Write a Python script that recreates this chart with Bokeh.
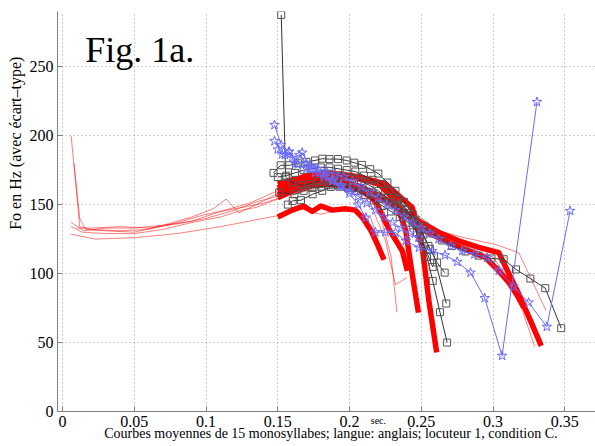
from bokeh.plotting import figure
from bokeh.models import (Label, Title, FixedTicker, CustomJSTickFormatter, Range1d,
                          LinearAxis)
from bokeh.embed import file_html
from bokeh.resources import INLINE

# ---------------- data ----------------
x_ticks = [0, 0.05, 0.1, 0.15, 0.2, 0.25, 0.3, 0.35]
y_ticks = [0, 50, 100, 150, 200, 250]

# thin red curves (raw F0)
t1_x = [0.006, 0.012, 0.02, 0.04, 0.06, 0.08, 0.10, 0.12, 0.14, 0.16, 0.18, 0.20, 0.215, 0.225, 0.232, 0.240]
t1_y = [200, 134, 132, 131, 132, 137, 143, 147, 151, 158, 164, 162, 150, 124, 92, 97]
t2_x = [0.008, 0.012, 0.016, 0.03, 0.05, 0.07, 0.09, 0.105, 0.114, 0.123, 0.135, 0.15, 0.17, 0.19, 0.21, 0.222, 0.229, 0.233]
t2_y = [180, 140, 132, 131, 130, 135, 141, 147, 154, 144, 150, 158, 165, 168, 163, 140, 112, 72]
t3_x = [0.006, 0.015, 0.03, 0.05, 0.07, 0.09, 0.11, 0.13, 0.15, 0.17, 0.19, 0.21, 0.23, 0.248, 0.262, 0.28, 0.302, 0.318, 0.337]
t3_y = [137, 131, 133, 133, 135, 138, 145, 151, 160, 170, 172, 170, 160, 142, 131, 126, 121, 115, 73]
t4_x = [0.006, 0.014, 0.03, 0.05, 0.07, 0.09, 0.11, 0.125, 0.135, 0.15, 0.17, 0.19, 0.21, 0.23, 0.245, 0.26, 0.28, 0.30, 0.315, 0.329]
t4_y = [134, 130, 129, 129, 132, 137, 141, 146, 148, 154, 160, 165, 162, 152, 138, 127, 120, 112, 90, 47]
t5_x = [0.006, 0.023, 0.05, 0.08, 0.11, 0.13, 0.15, 0.165, 0.18, 0.20, 0.215, 0.224]
t5_y = [128.5, 125, 126, 129, 134, 138, 142, 147, 143, 148, 140, 110]
t6_x = [0.01, 0.02, 0.04, 0.06, 0.08, 0.10, 0.12, 0.135, 0.15, 0.17, 0.19, 0.21, 0.23, 0.245, 0.252, 0.258]
t6_y = [133, 133, 134, 133, 136, 140, 146, 152, 156, 165, 170, 168, 158, 140, 105, 60]

# thick red curves (stylised F0)
r1_x = [0.150, 0.160, 0.168, 0.174, 0.180, 0.188, 0.197, 0.204, 0.209, 0.215, 0.2195, 0.224]
r1_y = [141, 146, 149, 145, 149, 146, 147, 146, 140.6, 131, 121, 110]
r2_x = [0.150, 0.160, 0.170, 0.180, 0.190, 0.200, 0.210, 0.218, 0.2276, 0.2368, 0.2403]
r2_y = [157, 162, 165, 167, 166, 164, 159, 152.7, 132, 116.4, 102]
r3_x = [0.150, 0.160, 0.170, 0.180, 0.190, 0.200, 0.210, 0.2206, 0.2322, 0.2392, 0.2426, 0.248]
r3_y = [160, 165, 169, 171, 171, 170, 168, 164.8, 152.7, 131, 106.8, 71.7]
r4_x = [0.150, 0.160, 0.170, 0.183, 0.195, 0.207, 0.2253, 0.2437, 0.2507, 0.2553, 0.2607]
r4_y = [162, 167, 171, 173, 172, 170, 164.8, 147.8, 118.8, 80.2, 42.8]
r5_x = [0.150, 0.160, 0.172, 0.185, 0.200, 0.215, 0.230, 0.2484, 0.262, 0.276, 0.290, 0.304, 0.309, 0.318, 0.326, 0.3336]
r5_y = [155, 160, 164, 165, 163, 158, 150, 138, 130, 123.7, 119, 115.2, 104.3, 85, 66, 47.6]
r6_x = [0.150, 0.160, 0.175, 0.190, 0.205, 0.220, 0.235, 0.2484, 0.2715, 0.2947, 0.303, 0.311, 0.317, 0.3214]
r6_y = [165, 168, 170, 168, 164, 157, 148, 133, 121.3, 111.6, 103, 93.5, 84, 75.4]

# black curves with square markers
k1_x = [0.1524, 0.1555, 0.160, 0.166, 0.172, 0.178, 0.184, 0.190, 0.196, 0.202, 0.208, 0.214, 0.220, 0.226, 0.232, 0.238, 0.244, 0.249, 0.254, 0.258, 0.263, 0.268]
k1_y = [287.5, 170, 166, 164, 165, 167, 169, 170, 170, 169, 167, 164, 160, 155, 150, 143, 135, 126, 112, 94.7, 72, 50]
k2_x = [0.147, 0.152, 0.158, 0.164, 0.170, 0.176, 0.181, 0.186, 0.192, 0.198, 0.2033, 0.2086, 0.2144, 0.2201, 0.2264, 0.232, 0.238, 0.244, 0.250, 0.255, 0.2588, 0.2674]
k2_y = [173, 178.5, 178.5, 180, 181, 182, 183.3, 183, 183, 182, 180.4, 178.8, 175.7, 172.5, 166, 160, 152, 143, 132, 120, 112.8, 78.3]
k3_x = [0.151, 0.1616, 0.168, 0.174, 0.180, 0.186, 0.192, 0.198, 0.204, 0.210, 0.216, 0.222, 0.228, 0.234, 0.240, 0.246, 0.252, 0.258, 0.2645, 0.2715, 0.2808, 0.2899, 0.2989, 0.3074, 0.316, 0.326, 0.3364, 0.3475]
k3_y = [158.7, 157.5, 160, 162, 163, 164, 164, 163, 162, 160, 158, 155, 152, 148, 144, 139, 134, 129, 124, 120, 116, 113, 111, 110.4, 103, 96.4, 89.4, 60.4]
k4_x = [0.150, 0.156, 0.162, 0.168, 0.174, 0.180, 0.186, 0.192, 0.198, 0.204, 0.210, 0.216, 0.222, 0.228, 0.234, 0.240, 0.246, 0.251, 0.256, 0.261, 0.2663]
k4_y = [170, 171, 173, 175, 176, 177, 177, 176, 175, 174, 171, 168, 165, 160, 154, 146, 137, 128, 118, 108, 100.7]
k5_x = [0.157, 0.1604, 0.1662, 0.1743, 0.181, 0.187, 0.193, 0.199, 0.205, 0.211, 0.217, 0.223, 0.229, 0.235, 0.241, 0.247, 0.252, 0.258]
k5_y = [150, 152.7, 153.2, 157.5, 160, 162.8, 163, 162, 160, 157, 153, 149, 145, 141, 137, 130, 120, 104.8]

# blue curves with star markers
b1_x = [0.1477, 0.1524, 0.158, 0.164, 0.170, 0.176, 0.182, 0.188, 0.194, 0.200, 0.206, 0.2114, 0.218, 0.225, 0.232, 0.2392, 0.2484, 0.2577, 0.2665, 0.275, 0.2843, 0.2942, 0.3063, 0.3306]
b1_y = [207.7, 193.3, 188.4, 179.3, 176, 173, 170, 167, 163, 158, 150, 140.6, 130, 130, 129.7, 123.7, 118.8, 116.4, 113.3, 108.5, 100.7, 82.2, 40.4, 224.4]
b2_x = [0.1477, 0.153, 0.1576, 0.162, 0.167, 0.172, 0.178, 0.184, 0.190, 0.196, 0.202, 0.208, 0.214, 0.220, 0.226, 0.232, 0.238, 0.244, 0.250, 0.256, 0.262, 0.2704, 0.2785, 0.287, 0.2958, 0.304, 0.3144, 0.3248, 0.3375, 0.3537]
b2_y = [196, 186.5, 188.2, 180, 187.7, 178, 176, 174, 172, 170, 167, 163, 159, 155, 150, 146, 141, 137, 133, 129, 125, 120, 116.4, 114, 111.6, 102, 90.4, 79, 61.4, 145.4]
b3_x = [0.150, 0.155, 0.160, 0.165, 0.170, 0.176, 0.182, 0.188, 0.194, 0.200, 0.206, 0.212, 0.218, 0.224, 0.230, 0.236, 0.242, 0.248]
b3_y = [190, 186, 184, 186, 180, 176, 172, 168, 164, 160, 156, 151, 146, 141, 137, 133, 129, 126]

thin_curves = [(t1_x, t1_y), (t2_x, t2_y), (t3_x, t3_y), (t4_x, t4_y), (t5_x, t5_y), (t6_x, t6_y)]
thick_curves = [(r1_x, r1_y), (r2_x, r2_y), (r3_x, r3_y), (r4_x, r4_y), (r5_x, r5_y), (r6_x, r6_y)]
black_curves = [(k1_x, k1_y), (k2_x, k2_y), (k3_x, k3_y), (k4_x, k4_y), (k5_x, k5_y)]
blue_curves = [(b1_x, b1_y), (b2_x, b2_y), (b3_x, b3_y)]

title_text = "Fig. 1a."
y_label = "Fo en Hz (avec écart–type)"
x_label = "Courbes moyennes de 15 monosyllabes; langue: anglais; locuteur 1, condition C."
unit_label = "sec."
unit_x = 0.2201

SERIF = "Liberation Serif"

# ---------------- figure ----------------
p = figure(width=595, height=446, output_backend="svg", toolbar_location=None, title=None,
           x_range=Range1d(-0.0035, 0.3714), y_range=Range1d(0, 290),
           min_border_left=57, min_border_right=0, min_border_top=11, min_border_bottom=35)
p.outline_line_color = None
p.background_fill_color = "white"

for ax in (p.xaxis[0], p.yaxis[0]):
    ax.axis_line_color = "#808080"
    ax.major_tick_line_color = "#808080"
    ax.major_tick_in = 5
    ax.major_tick_out = 0
    ax.minor_tick_line_color = None
    ax.major_label_text_font = SERIF
    ax.major_label_text_font_size = "16px"
    ax.major_label_text_color = "black"
    ax.axis_label_standoff = 0

p.xaxis[0].ticker = FixedTicker(ticks=x_ticks)
p.xaxis[0].formatter = CustomJSTickFormatter(code="return String(Math.round(tick*100)/100);")
p.xaxis[0].major_label_standoff = 4
p.yaxis[0].ticker = FixedTicker(ticks=y_ticks)
p.yaxis[0].major_label_standoff = 4

for g in (p.xgrid[0], p.ygrid[0]):
    g.grid_line_color = "#a0a0a0"
    g.grid_line_dash = "1 3"
    g.grid_line_width = 1

for xs, ys in thin_curves:
    p.line(xs, ys, line_color="red", line_alpha=0.5, line_width=1)
for xs, ys in thick_curves:
    p.line(xs, ys, line_color="red", line_width=5.5, line_join="round")
for xs, ys in black_curves:
    p.line(xs, ys, line_color="#333333", line_width=1)
    p.scatter(xs, ys, marker="square", size=7, line_color="#555555", fill_alpha=0, line_width=1)
for xs, ys in blue_curves:
    p.line(xs, ys, line_color="#6a6aff", line_width=1)
    p.scatter(xs, ys, marker="star", size=10, line_color="#6a6aff", fill_alpha=0, line_width=1)

p.add_layout(Label(x=0.0158, y=262.1, text=title_text, text_font=SERIF, text_font_size="36px",
                   text_baseline="alphabetic", text_align="left", text_color="black"))

# "sec." unit written under the axis, in the tick-label row
unit_axis = LinearAxis(ticker=FixedTicker(ticks=[unit_x]),
                       formatter=CustomJSTickFormatter(code="return 'sec.';"),
                       axis_line_color=None, major_tick_line_color=None, minor_tick_line_color=None,
                       major_tick_in=0, major_tick_out=0, axis_label_standoff=0,
                       major_label_text_font=SERIF, major_label_text_font_size="10px",
                       major_label_text_color="black", major_label_standoff=-15)
p.add_layout(unit_axis, "below")

p.add_layout(Title(text=x_label, align="left", offset=46.7, standoff=-8, vertical_align="top",
                   text_font=SERIF, text_font_size="14px", text_font_style="normal",
                   text_color="black"), "below")
p.add_layout(Title(text=y_label, align="left", offset=181.7, standoff=6, text_font=SERIF,
                   text_font_size="16px", text_font_style="normal", text_color="black"), "left")

open("out.html", "w").write(file_html(p, INLINE))
